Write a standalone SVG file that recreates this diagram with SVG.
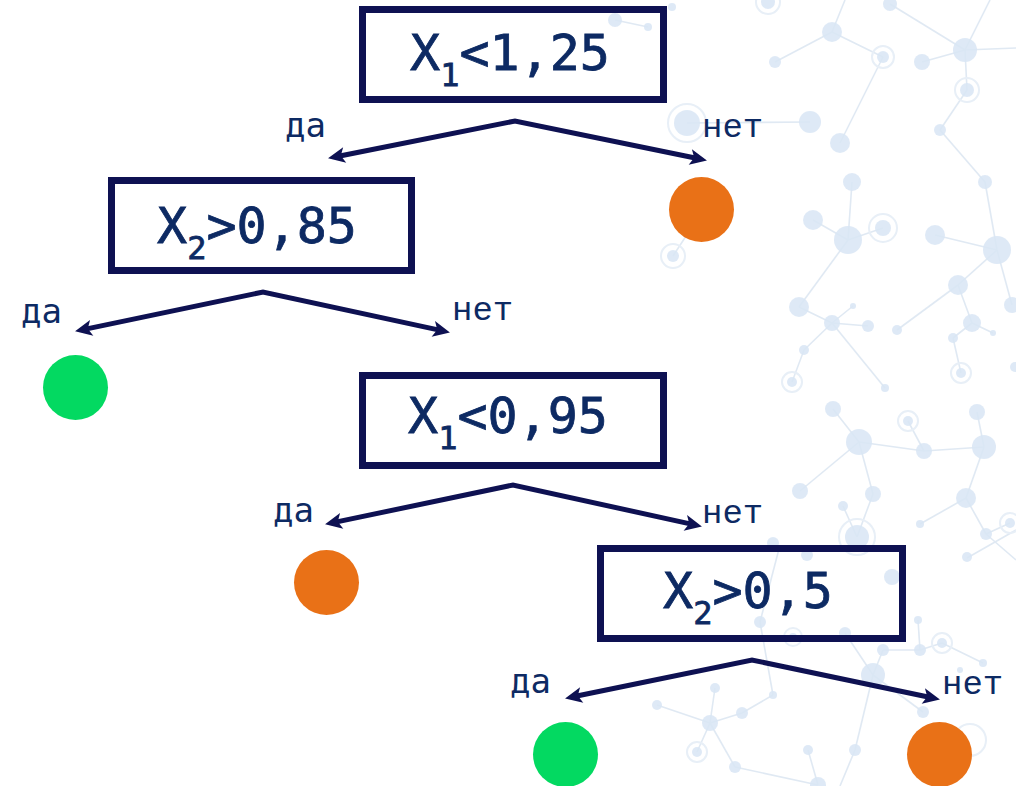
<svg xmlns="http://www.w3.org/2000/svg" width="1016" height="786" viewBox="0 0 1016 786">
  <style>
    .net { opacity: 0.85; }
    .net line { stroke: #dbe6f2; stroke-width: 1.6; }
    .net circle { fill: #d2e2f3; opacity: 0.85; }
    .net circle.ring { fill: none; stroke: #e4edf6; stroke-width: 2; opacity: 1; }
    .box { fill: none; stroke: #0e1152; stroke-width: 7; }
    .cond { font-family: "DejaVu Sans Mono", "Liberation Mono", monospace; font-size: 50px; fill: #0d2a63; stroke: #0d2a63; stroke-width: 0.8; text-anchor: middle; }
    .sub { font-size: 32px; }
    .yes { font-family: "DejaVu Sans Mono", monospace; font-size: 34px; fill: #0d2a63; }
    .no { font-family: "Liberation Mono", "Courier New", monospace; font-size: 34px; fill: #0d2a63; }
    .edge { fill: none; stroke: #0e1152; stroke-width: 5; stroke-linejoin: miter; marker-start: url(#head-start); marker-end: url(#head); }
    .leaf-orange { fill: #e97117; }
    .leaf-green { fill: #03d961; }
  </style>
  <defs>
    <marker id="head" viewBox="-6 -10 20 20" refX="0" refY="0" markerWidth="20" markerHeight="20" markerUnits="userSpaceOnUse" orient="auto">
      <path d="M-5,-8 L12,0 L-5,8 L-1,0 Z" fill="#0e1152"/>
    </marker>
    <marker id="head-start" viewBox="-6 -10 20 20" refX="0" refY="0" markerWidth="20" markerHeight="20" markerUnits="userSpaceOnUse" orient="auto-start-reverse">
      <path d="M-5,-8 L12,0 L-5,8 L-1,0 Z" fill="#0e1152"/>
    </marker>
  </defs>

  <rect width="1016" height="786" fill="#ffffff"/>

  <!-- molecular network backdrop -->
  <g class="net">
    <line x1="615" y1="20" x2="648" y2="27"/>
    <line x1="832" y1="32" x2="775" y2="62"/>
    <line x1="832" y1="32" x2="883" y2="57"/>
    <line x1="832" y1="32" x2="845" y2="0"/>
    <line x1="883" y1="57" x2="840" y2="143"/>
    <line x1="890" y1="4" x2="965" y2="50"/>
    <line x1="965" y1="50" x2="922" y2="62"/>
    <line x1="965" y1="50" x2="967" y2="90"/>
    <line x1="965" y1="50" x2="1016" y2="48"/>
    <line x1="965" y1="50" x2="990" y2="0"/>
    <line x1="967" y1="90" x2="940" y2="130"/>
    <line x1="940" y1="130" x2="985" y2="182"/>
    <line x1="985" y1="182" x2="997" y2="250"/>
    <line x1="810" y1="122" x2="687" y2="123"/>
    <line x1="852" y1="182" x2="848" y2="240"/>
    <line x1="813" y1="220" x2="848" y2="240"/>
    <line x1="848" y1="240" x2="883" y2="228"/>
    <line x1="848" y1="240" x2="799" y2="307"/>
    <line x1="799" y1="307" x2="832" y2="323"/>
    <line x1="832" y1="323" x2="853" y2="306"/>
    <line x1="832" y1="323" x2="868" y2="326"/>
    <line x1="832" y1="323" x2="804" y2="350"/>
    <line x1="804" y1="350" x2="792" y2="382"/>
    <line x1="832" y1="323" x2="885" y2="388"/>
    <line x1="935" y1="235" x2="997" y2="250"/>
    <line x1="997" y1="250" x2="958" y2="285"/>
    <line x1="958" y1="285" x2="897" y2="330"/>
    <line x1="958" y1="285" x2="972" y2="323"/>
    <line x1="972" y1="323" x2="993" y2="333"/>
    <line x1="972" y1="323" x2="953" y2="338"/>
    <line x1="953" y1="338" x2="961" y2="373"/>
    <line x1="997" y1="250" x2="1012" y2="305"/>
    <line x1="673" y1="256" x2="690" y2="230"/>
    <line x1="833" y1="409" x2="859" y2="442"/>
    <line x1="859" y1="442" x2="924" y2="451"/>
    <line x1="924" y1="451" x2="908" y2="421"/>
    <line x1="924" y1="451" x2="984" y2="447"/>
    <line x1="984" y1="447" x2="977" y2="412"/>
    <line x1="859" y1="442" x2="800" y2="491"/>
    <line x1="859" y1="442" x2="873" y2="494"/>
    <line x1="873" y1="494" x2="857" y2="537"/>
    <line x1="843" y1="506" x2="857" y2="537"/>
    <line x1="984" y1="447" x2="966" y2="498"/>
    <line x1="966" y1="498" x2="920" y2="524"/>
    <line x1="966" y1="498" x2="986" y2="534"/>
    <line x1="986" y1="534" x2="1010" y2="523"/>
    <line x1="986" y1="534" x2="1016" y2="560"/>
    <line x1="760" y1="622" x2="780" y2="545"/>
    <line x1="760" y1="622" x2="773" y2="695"/>
    <line x1="873" y1="675" x2="845" y2="633"/>
    <line x1="873" y1="675" x2="883" y2="650"/>
    <line x1="883" y1="650" x2="920" y2="650"/>
    <line x1="920" y1="650" x2="918" y2="620"/>
    <line x1="920" y1="650" x2="942" y2="643"/>
    <line x1="942" y1="643" x2="983" y2="663"/>
    <line x1="873" y1="675" x2="923" y2="712"/>
    <line x1="873" y1="675" x2="855" y2="750"/>
    <line x1="855" y1="750" x2="840" y2="786"/>
    <line x1="808" y1="750" x2="818" y2="785"/>
    <line x1="735" y1="767" x2="818" y2="785"/>
    <line x1="710" y1="723" x2="657" y2="705"/>
    <line x1="710" y1="723" x2="742" y2="713"/>
    <line x1="742" y1="713" x2="773" y2="695"/>
    <line x1="710" y1="723" x2="715" y2="688"/>
    <line x1="710" y1="723" x2="697" y2="752"/>
    <line x1="710" y1="723" x2="735" y2="767"/>
    <line x1="967" y1="558" x2="1016" y2="530"/>

    <circle cx="768" cy="2" r="7"/><circle class="ring" cx="768" cy="2" r="12"/>
    <circle cx="672" cy="7" r="4"/>
    <circle cx="615" cy="20" r="7"/>
    <circle cx="648" cy="27" r="4"/>
    <circle cx="832" cy="32" r="10"/>
    <circle cx="890" cy="4" r="7"/>
    <circle cx="775" cy="62" r="6"/>
    <circle cx="883" cy="57" r="6"/><circle class="ring" cx="883" cy="57" r="11"/>
    <circle cx="965" cy="50" r="12"/>
    <circle cx="922" cy="62" r="8"/>
    <circle cx="967" cy="90" r="7"/><circle class="ring" cx="967" cy="90" r="12"/>
    <circle cx="687" cy="123" r="13"/><circle class="ring" cx="687" cy="123" r="19"/>
    <circle cx="810" cy="122" r="11"/>
    <circle cx="840" cy="143" r="10"/>
    <circle cx="940" cy="130" r="6"/>
    <circle cx="852" cy="182" r="9"/>
    <circle cx="985" cy="182" r="7"/>
    <circle cx="813" cy="220" r="10"/>
    <circle cx="848" cy="240" r="14"/>
    <circle cx="883" cy="228" r="8"/><circle class="ring" cx="883" cy="228" r="14"/>
    <circle cx="935" cy="235" r="10"/>
    <circle cx="997" cy="250" r="14"/>
    <circle cx="673" cy="256" r="6"/><circle class="ring" cx="673" cy="256" r="12"/>
    <circle cx="958" cy="285" r="10"/>
    <circle cx="1012" cy="305" r="8"/>
    <circle cx="799" cy="307" r="10"/>
    <circle cx="832" cy="323" r="8"/>
    <circle cx="853" cy="306" r="3"/>
    <circle cx="868" cy="326" r="6"/>
    <circle cx="897" cy="330" r="5"/>
    <circle cx="972" cy="323" r="9"/>
    <circle cx="993" cy="333" r="3"/>
    <circle cx="953" cy="338" r="5"/>
    <circle cx="804" cy="350" r="5"/>
    <circle cx="961" cy="373" r="5"/><circle class="ring" cx="961" cy="373" r="10"/>
    <circle cx="792" cy="382" r="5"/><circle class="ring" cx="792" cy="382" r="10"/>
    <circle cx="885" cy="388" r="4"/>
    <circle cx="1015" cy="367" r="5"/>
    <circle cx="833" cy="409" r="8"/>
    <circle cx="908" cy="421" r="5"/><circle class="ring" cx="908" cy="421" r="10"/>
    <circle cx="977" cy="412" r="8"/>
    <circle cx="859" cy="442" r="13"/>
    <circle cx="924" cy="451" r="8"/>
    <circle cx="984" cy="447" r="12"/>
    <circle cx="800" cy="491" r="8"/>
    <circle cx="873" cy="494" r="8"/>
    <circle cx="843" cy="506" r="5"/>
    <circle cx="966" cy="498" r="10"/>
    <circle cx="920" cy="524" r="4"/>
    <circle cx="857" cy="537" r="12"/><circle class="ring" cx="857" cy="537" r="18"/>
    <circle cx="986" cy="534" r="6"/>
    <circle cx="1010" cy="523" r="5"/><circle class="ring" cx="1010" cy="523" r="10"/>
    <circle cx="773" cy="543" r="6"/>
    <circle cx="807" cy="555" r="6"/>
    <circle cx="967" cy="557" r="5"/>
    <circle cx="892" cy="577" r="8"/>
    <circle cx="760" cy="622" r="6"/>
    <circle cx="793" cy="637" r="4"/><circle class="ring" cx="793" cy="637" r="9"/>
    <circle cx="845" cy="633" r="6"/>
    <circle cx="918" cy="620" r="4"/>
    <circle cx="920" cy="650" r="6"/>
    <circle cx="942" cy="643" r="5"/><circle class="ring" cx="942" cy="643" r="10"/>
    <circle cx="883" cy="650" r="6"/>
    <circle cx="873" cy="675" r="12"/>
    <circle cx="983" cy="663" r="4"/>
    <circle cx="960" cy="670" r="3"/>
    <circle cx="715" cy="688" r="5"/>
    <circle cx="773" cy="695" r="4"/>
    <circle cx="657" cy="705" r="5"/>
    <circle cx="742" cy="713" r="6"/>
    <circle cx="710" cy="723" r="8"/>
    <circle cx="923" cy="712" r="6"/>
    <circle cx="697" cy="752" r="5"/><circle class="ring" cx="697" cy="752" r="10"/>
    <circle cx="808" cy="750" r="5"/>
    <circle cx="855" cy="750" r="6"/>
    <circle cx="735" cy="767" r="6"/>
    <circle cx="818" cy="785" r="8"/>
    <circle class="ring" cx="970" cy="740" r="16"/>
  </g>

  <!-- branch connectors -->
  <g id="connectors">
    <path class="edge" d="M339.8,156 L515,121 L695.2,158"/>
    <path class="edge" d="M86.8,328.9 L263,292 L438.2,329.9"/>
    <path class="edge" d="M336.8,521.9 L513,485 L690.2,523.9"/>
    <path class="edge" d="M576.8,696 L752,660 L928.2,697"/>
  </g>

  <!-- branch labels -->
  <g id="labels">
    <text class="yes" x="285" y="137">да</text>
    <text class="no" x="702" y="137">нет</text>
    <text class="yes" x="21" y="323">да</text>
    <text class="no" x="452" y="320">нет</text>
    <text class="yes" x="273" y="522">да</text>
    <text class="no" x="702" y="523">нет</text>
    <text class="yes" x="510" y="693">да</text>
    <text class="no" x="942" y="694">нет</text>
  </g>

  <!-- decision nodes -->
  <g id="node-x1-125">
    <rect class="box" x="362.5" y="9.5" width="301" height="90"/>
    <text class="cond" x="510" y="70">X<tspan class="sub" dy="16">1</tspan><tspan dy="-16">&lt;1,25</tspan></text>
  </g>
  <g id="node-x2-085">
    <rect class="box" x="111.5" y="180.5" width="300" height="90"/>
    <text class="cond" x="257" y="243">X<tspan class="sub" dy="16">2</tspan><tspan dy="-16">&gt;0,85</tspan></text>
  </g>
  <g id="node-x1-095">
    <rect class="box" x="362.5" y="375.5" width="301" height="90"/>
    <text class="cond" x="508" y="433">X<tspan class="sub" dy="16">1</tspan><tspan dy="-16">&lt;0,95</tspan></text>
  </g>
  <g id="node-x2-05">
    <rect class="box" x="600.5" y="548.5" width="302" height="90"/>
    <text class="cond" x="748" y="608">X<tspan class="sub" dy="16">2</tspan><tspan dy="-16">&gt;0,5</tspan></text>
  </g>

  <!-- leaves -->
  <g id="leaf-1"><circle class="leaf-orange" cx="701.5" cy="209.5" r="32.5"/></g>
  <g id="leaf-2"><circle class="leaf-green" cx="75.5" cy="387.5" r="32.5"/></g>
  <g id="leaf-3"><circle class="leaf-orange" cx="326.5" cy="582.5" r="32.5"/></g>
  <g id="leaf-4"><circle class="leaf-green" cx="565.5" cy="754.5" r="32.5"/></g>
  <g id="leaf-5"><circle class="leaf-orange" cx="939.5" cy="754.5" r="32.5"/></g>
</svg>
